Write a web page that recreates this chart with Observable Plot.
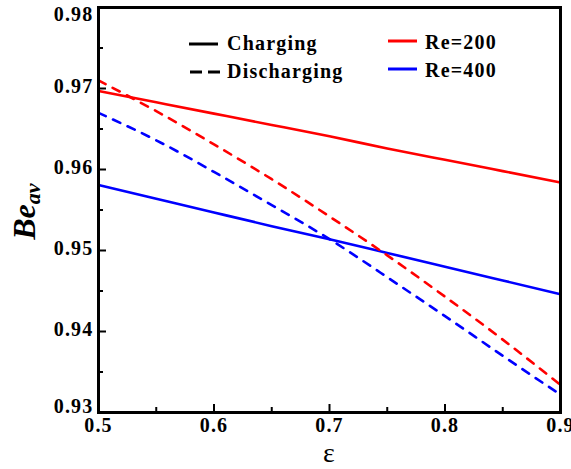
<!DOCTYPE html>
<html>
<head>
<meta charset="utf-8">
<script src="https://cdn.jsdelivr.net/npm/d3@7"></script>
<script src="https://cdn.jsdelivr.net/npm/@observablehq/plot@0.6"></script>
<style>
  html, body { margin: 0; padding: 0; background: #fff; }
  #wrap { position: relative; width: 571px; height: 469px; }
  #wrap svg.plot { overflow: visible; }
  .lab { position: absolute; font-family: 'Liberation Serif', serif; font-weight: bold; font-size: 20px; letter-spacing: 0.06em; white-space: nowrap; line-height: 20px; }
  .sw { position: absolute; overflow: visible; }
  #ylab { position: absolute; left: 0px; top: 0px; font-family: 'Liberation Serif', serif; font-weight: bold; font-style: italic; font-size: 32px; white-space: nowrap; line-height: 1; }
</style>
</head>
<body>
<div id="wrap"></div>
<script>
// ---- data ----
const eps = [0.5, 0.55, 0.6, 0.65, 0.7, 0.75, 0.8, 0.85, 0.9];
const chargingRe200 = [0.9697, 0.9683, 0.9669, 0.9655, 0.9641, 0.9626, 0.9612, 0.9598, 0.9584];
const chargingRe400 = [0.9581, 0.9564, 0.9547, 0.9530, 0.9514, 0.9497, 0.9480, 0.9463, 0.9446];
const dischargingRe200 = [0.9710, 0.9672, 0.9631, 0.9588, 0.9542, 0.9494, 0.9443, 0.9390, 0.9334];
const dischargingRe400 = [0.9670, 0.9636, 0.9597, 0.9556, 0.9514, 0.9467, 0.9419, 0.9370, 0.9322];
const xMajor = [0.5, 0.6, 0.7, 0.8, 0.9];
const xMinor = [0.55, 0.65, 0.75, 0.85];
const yMajor = [0.93, 0.94, 0.95, 0.96, 0.97, 0.98];
const yMinor = [0.935, 0.945, 0.955, 0.965, 0.975];
const seriesNames = ["Re=200", "Re=400"];
const modeNames = ["Charging", "Discharging"];
const xLabel = "ε";

const rows = [];
eps.forEach((e, i) => {
  rows.push({eps: e, be: chargingRe200[i], re: seriesNames[0], mode: modeNames[0]});
  rows.push({eps: e, be: chargingRe400[i], re: seriesNames[1], mode: modeNames[0]});
  rows.push({eps: e, be: dischargingRe200[i], re: seriesNames[0], mode: modeNames[1]});
  rows.push({eps: e, be: dischargingRe400[i], re: seriesNames[1], mode: modeNames[1]});
});
const colorOf = {"Re=200": "#ff0000", "Re=400": "#0000ff"};

const W = 571, H = 469, mL = 98, mR = 11, mT = 7, mB = 57;
const fH = H - mT - mB, fW = W - mL - mR;

const marks = [];
for (const m of modeNames) {
  for (const r of seriesNames) {
    marks.push(Plot.line(rows.filter(d => d.mode === m && d.re === r), {
      x: "eps", y: "be", curve: "natural",
      stroke: colorOf[r], strokeWidth: 2.6,
      strokeDasharray: m === "Discharging" ? "8,8" : null
    }));
  }
}

const yBottom = yMajor.filter(v => v <= 0.93);
const yMain = yMajor.filter(v => v > 0.93 && v < 0.98);
const yTop = yMajor.filter(v => v >= 0.98);
const yFmt = d => d.toFixed(2);

const chart = Plot.plot({
  width: W, height: H,
  marginLeft: mL, marginRight: mR, marginTop: mT, marginBottom: mB,
  style: {fontFamily: "Liberation Serif, serif", fontWeight: "bold", fontSize: "20px", letterSpacing: "0.06em", color: "#000", background: "#fff", overflow: "visible"},
  x: {domain: [0.5, 0.9]},
  y: {domain: [0.93, 0.98]},
  marks: [
    ...marks,
    Plot.tickX(xMajor, {x: d => d, insetTop: fH - 8, stroke: "#000", strokeWidth: 2}),
    Plot.tickX(xMinor, {x: d => d, insetTop: fH - 5, stroke: "#000", strokeWidth: 2}),
    Plot.tickY(yMajor, {y: d => d, insetRight: fW - 8, stroke: "#000", strokeWidth: 2}),
    Plot.tickY(yMinor, {y: d => d, insetRight: fW - 5, stroke: "#000", strokeWidth: 2}),
    Plot.axisX(xMajor, {tickSize: 0, tickPadding: 5, tickFormat: d => d.toFixed(1), label: null}),
    Plot.axisY(yMain, {tickSize: 0, tickPadding: 5, dy: -2, tickFormat: yFmt, label: null}),
    Plot.axisY(yBottom, {tickSize: 0, tickPadding: 5, dy: -6, tickFormat: yFmt, label: null}),
    Plot.axisY(yTop, {tickSize: 0, tickPadding: 5, dy: 7, tickFormat: yFmt, label: null}),
    Plot.text([xLabel], {text: d => d, frameAnchor: "bottom", dy: 49, fontSize: 28, fontWeight: "normal"}),
    Plot.frame({stroke: "#000", strokeWidth: 3})
  ]
});

const wrap = document.getElementById("wrap");
wrap.appendChild(chart);

const NS = "http://www.w3.org/2000/svg";
function addSwatch(x1, x2, y, color, dashed) {
  const s = document.createElementNS(NS, "svg");
  s.setAttribute("class", "sw");
  s.setAttribute("width", x2 - x1);
  s.setAttribute("height", 6);
  s.style.left = x1 + "px";
  s.style.top = (y - 3) + "px";
  const l = document.createElementNS(NS, "line");
  l.setAttribute("x1", 0); l.setAttribute("x2", x2 - x1);
  l.setAttribute("y1", 3); l.setAttribute("y2", 3);
  l.setAttribute("stroke", color);
  l.setAttribute("stroke-width", 3);
  if (dashed) l.setAttribute("stroke-dasharray", "12,6");
  s.appendChild(l);
  wrap.appendChild(s);
}
function addLabel(text, x, baseline) {
  const s = document.createElement("div");
  s.className = "lab";
  s.textContent = text;
  s.style.left = x + "px";
  s.style.top = (baseline - 16) + "px";
  wrap.appendChild(s);
}
addSwatch(189, 218, 44, "#000", false);
addLabel(modeNames[0], 227, 49);
addSwatch(190, 222, 72, "#000", true);
addLabel(modeNames[1], 227, 77);
addSwatch(388, 417, 41, colorOf["Re=200"], false);
addLabel(seriesNames[0], 425, 48);
addSwatch(388, 417, 69, colorOf["Re=400"], false);
addLabel(seriesNames[1], 425, 76);

// y label: rotated, centred on x≈26, y≈211
const yl = document.createElement("div");
yl.id = "ylab";
yl.innerHTML = "Be<sub style='font-size:22px;vertical-align:-0.2em'>av</sub>";
wrap.appendChild(yl);
const bw = yl.offsetWidth, bh = yl.offsetHeight;
yl.style.left = (26 - bw / 2) + "px";
yl.style.top = (211 - bh / 2) + "px";
yl.style.transform = "rotate(-90deg)";
</script>
</body>
</html>
